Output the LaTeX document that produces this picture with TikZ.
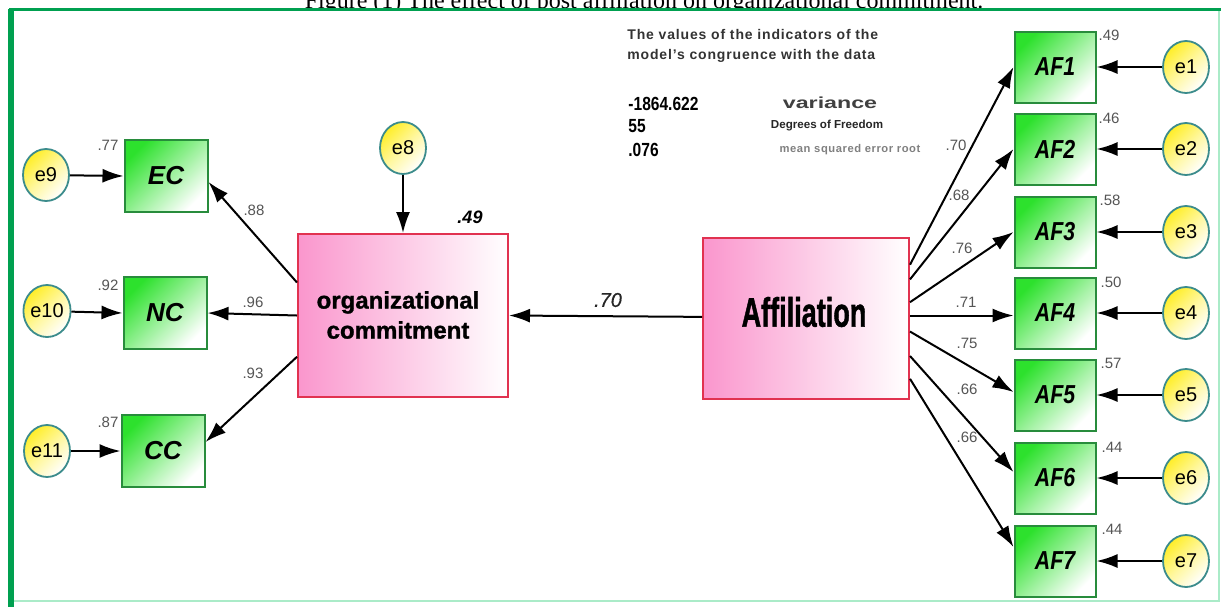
\documentclass[tikz,border=0pt]{standalone}
\usepackage{fontspec}
\setmainfont{Liberation Serif}
\setsansfont{Liberation Sans}
\usetikzlibrary{arrows.meta,shapes.geometric,calc}
\definecolor{framegreen}{RGB}{0,160,80}
\definecolor{lightframe}{RGB}{170,235,200}
\definecolor{boxborder}{RGB}{40,140,60}
\definecolor{boxfill}{RGB}{45,225,45}
\definecolor{circborder}{RGB}{60,140,140}
\definecolor{circfill}{RGB}{255,238,40}
\definecolor{pinkfill}{RGB}{250,150,205}
\definecolor{redborder}{RGB}{225,50,80}
\definecolor{labgray}{RGB}{85,85,85}
\tikzset{
  obsbox/.style={rectangle, draw=boxborder, line width=1pt, minimum width=41pt, minimum height=36pt, inner sep=0pt,
    top color=boxfill, bottom color=white, shading angle=45,
    font=\sffamily\bfseries\itshape\fontsize{13}{13}\selectfont},
  errnode/.style={ellipse, draw=circborder, line width=0.9pt, minimum width=23pt, minimum height=26pt, inner sep=0pt,
    top color=circfill, bottom color=white, middle color=circfill!45!white, shading angle=45,
    font=\sffamily\fontsize{10}{10}\selectfont},
  latbox/.style={rectangle, draw=redborder, line width=1pt, inner sep=0pt,
    left color=pinkfill, middle color=pinkfill!30!white, right color=white, align=center},
  arr/.style={-{Latex[length=10.5pt,width=7pt]}, line width=1pt, black},
  coef/.style={font=\sffamily\fontsize{7.5}{8}\selectfont, text=labgray, inner sep=0pt},
  infotxt/.style={font=\sffamily\bfseries, inner sep=0pt}
}
\begin{document}
\begin{tikzpicture}[x=0.5pt,y=-0.5pt]
\useasboundingbox (0,0) rectangle (1221,607);
\clip (0,0) rectangle (1221,607);
% title (clipped at top, as in the reference)
\node[anchor=base, inner sep=0pt, font=\rmfamily\fontsize{12}{12}\selectfont] (title) at (644,8) {Figure (1) The effect of post affiliation on organizational commitment.};
% frame
\fill[white] (9,9) rectangle (1219,601);
\draw[lightframe, line width=1pt] (1219,9) -- (1219,601) -- (9,601);
\draw[framegreen, line width=1.6pt] (9,9.5) -- (1221,9.5);
\draw[framegreen, line width=2.6pt] (11,9) -- (11,607);

% left side
\node[errnode] (e9) at (46,175) {e9};
\node[errnode] (e10) at (47,311) {e10};
\node[errnode] (e11) at (47,451) {e11};
\node[obsbox, minimum width=41.5pt] (EC) at (166,176) {EC};
\node[obsbox, minimum width=41.5pt] (NC) at (165,313) {NC};
\node[obsbox, minimum width=41.5pt] (CC) at (163,451) {CC};

% latent variables
\node[latbox, minimum width=105pt, minimum height=81.5pt] (oc) at (403,315.5) {};
\node[font=\sffamily\bfseries\fontsize{12}{15}\selectfont, align=center, inner sep=0pt] (octext) at (398,315) {\addfontfeatures{FakeBold=1.2}organizational\\\addfontfeatures{FakeBold=1.2}commitment};
\node[latbox, minimum width=103pt, minimum height=80.5pt] (aff) at (806,318.5) {};
\node[font=\sffamily\bfseries\fontsize{20.5}{21}\selectfont, inner sep=0pt] (afftext) at (804,312) {\scalebox{0.66}[1]{\addfontfeatures{FakeBold=1.5}Affiliation}};
\node[errnode] (e8) at (403,148) {e8};

% right side
\foreach \i/\y in {1/67,2/149,3/232,4/313,5/395,6/478,7/561}{
  \node[obsbox, minimum width=40.5pt, minimum height=35.5pt] (AF\i) at (1055,\y) {\scalebox{0.82}[1]{AF\i}};
  \node[errnode] (e\i) at (1186,\y) {e\i};
  \draw[arr] (e\i) -- (AF\i.east);
}

% arrows left
\draw[arr] (e9) -- (EC.west);
\draw[arr] (e10) -- (NC.west);
\draw[arr] (e11) -- (CC.west);
\draw[arr] ($(oc.north west)!0.30!(oc.south west)$) -- ($(EC.east)+(0,6)$);
\draw[arr] ($(oc.north west)!0.50!(oc.south west)$) -- (NC.east);
\draw[arr] ($(oc.north west)!0.75!(oc.south west)$) -- ($(CC.east)+(0,-9)$);
\draw[arr] (e8) -- (oc.north -| e8);
\draw[arr] ($(aff.north west)!0.49!(aff.south west)$) -- (oc.east);

% arrows right
\draw[arr] ($(aff.north east)!0.17!(aff.south east)$) -- (AF1.west);
\draw[arr] ($(aff.north east)!0.26!(aff.south east)$) -- (AF2.west);
\draw[arr] ($(aff.north east)!0.40!(aff.south east)$) -- (AF3.west);
\draw[arr] (aff.east) ++(0,-3) coordinate (a4) (a4) -- (a4 -| AF4.west);
\draw[arr] ($(aff.north east)!0.58!(aff.south east)$) -- ($(AF5.west)+(0,-3)$);
\draw[arr] ($(aff.north east)!0.73!(aff.south east)$) -- ($(AF6.west)+(0,-6)$);
\draw[arr] ($(aff.north east)!0.87!(aff.south east)$) -- ($(AF7.west)+(0,-14)$);

% coefficient labels left
\node[coef] (l77) at (108,145) {.77};
\node[coef] (l92) at (108,285) {.92};
\node[coef] (l87) at (108,422) {.87};
\node[coef] (l88) at (254,210) {.88};
\node[coef] (l96) at (253,302) {.96};
\node[coef] (l93) at (253,373) {.93};
\node[font=\sffamily\bfseries\itshape\fontsize{9}{9}\selectfont, inner sep=0pt] (l49) at (470,217) {.49};
\node[font=\sffamily\itshape\fontsize{10}{10}\selectfont, inner sep=0pt, text=black!85] (l70) at (608,300) {\addfontfeatures{FakeBold=0.6}.70};

% coefficient labels right
\node[coef] (r1) at (1109,35) {.49};
\node[coef] (r2) at (1109,118) {.46};
\node[coef] (r3) at (1110,200) {.58};
\node[coef] (r4) at (1111,282) {.50};
\node[coef] (r5) at (1111,363) {.57};
\node[coef] (r6) at (1112,447) {.44};
\node[coef] (r7) at (1112,529) {.44};
\node[coef] (p1) at (956,145) {.70};
\node[coef] (p2) at (959,195) {.68};
\node[coef] (p3) at (962,248) {.76};
\node[coef] (p4) at (966,302) {.71};
\node[coef] (p5) at (967,343) {.75};
\node[coef] (p6) at (967,389) {.66};
\node[coef] (p7) at (967,437) {.66};

% fit indices text
\node[infotxt, anchor=west, text=black!80, font=\sffamily\bfseries\fontsize{7}{10}\selectfont, align=left] (hdr) at (627,46) {\addfontfeatures{LetterSpace=6}The values of the indicators of the\\\addfontfeatures{LetterSpace=6}model's congruence with the data};
\node[infotxt, anchor=west, font=\sffamily\bfseries\fontsize{9.5}{11}\selectfont] (n1) at (628,103.5) {\scalebox{0.82}[1]{-1864.622}};
\node[infotxt, anchor=west, font=\sffamily\bfseries\fontsize{9.5}{11}\selectfont] (n2) at (628,126.5) {\scalebox{0.82}[1]{55}};
\node[infotxt, anchor=west, font=\sffamily\bfseries\fontsize{9.5}{11}\selectfont] (n3) at (628,149.5) {\scalebox{0.82}[1]{.076}};
\node[infotxt, text=black!75, font=\sffamily\bfseries\fontsize{8}{8}\selectfont] (t1) at (830,103) {\scalebox{1.45}[1]{variance}};
\node[infotxt, text=black!85, font=\sffamily\bfseries\fontsize{5.8}{6}\selectfont] (t2) at (827,126) {Degrees of Freedom};
\node[infotxt, text=black!50, font=\sffamily\bfseries\fontsize{5.6}{6}\selectfont] (t3) at (850,150) {\addfontfeatures{LetterSpace=5}mean squared error root};
\end{tikzpicture}
\end{document}
